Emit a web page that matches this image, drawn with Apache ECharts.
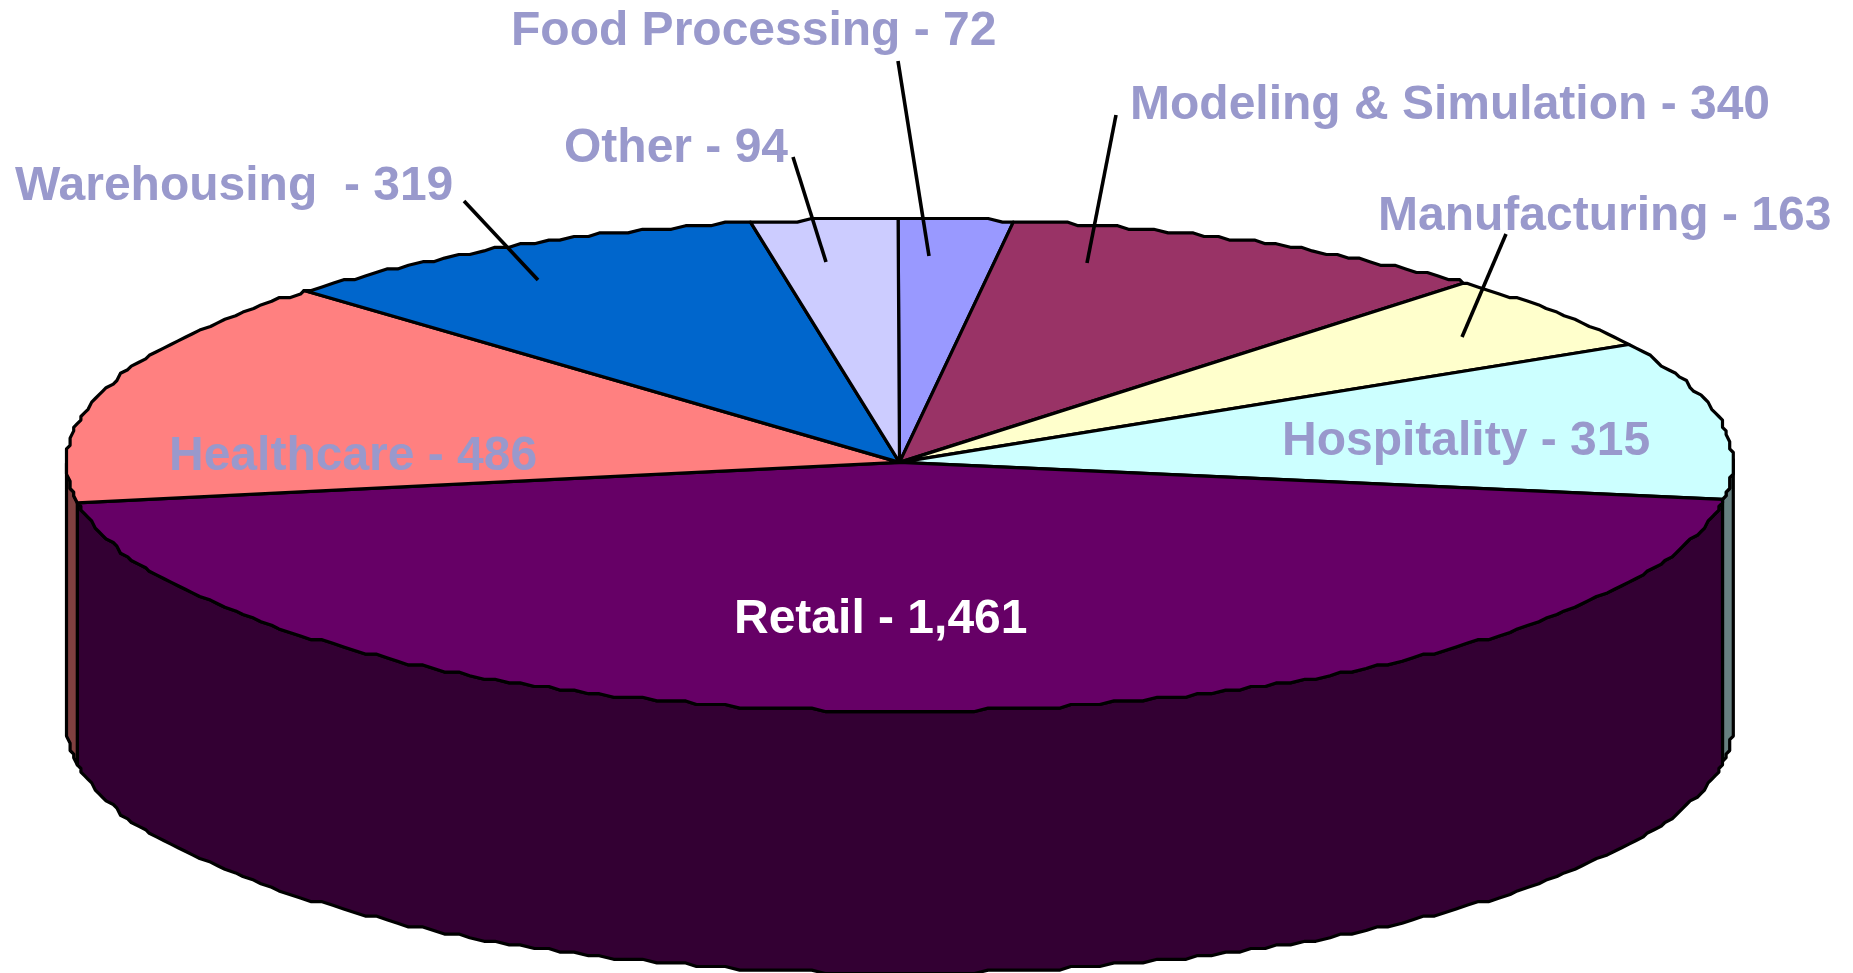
<!DOCTYPE html>
<html>
<head>
<meta charset="utf-8">
<style>
    html, body { margin: 0; padding: 0; background: #fff; }
    #chart { width: 1853px; height: 973px; }
</style>
<script src="https://cdn.jsdelivr.net/npm/echarts@6/dist/echarts.min.js"></script>
</head>
<body>
<div id="chart"></div>
<script>
'use strict';
// clockwise from 12 o'clock, same order as the picture
const categories = ['Food Processing', 'Modeling & Simulation', 'Manufacturing', 'Hospitality',
    'Retail', 'Healthcare', 'Warehousing ', 'Other'];
const values = [72, 340, 163, 315, 1461, 486, 319, 94];
const sliceColors = ['#9999FF', '#993366', '#FFFFCC', '#CCFFFF', '#660066', '#FF8080', '#0066CC', '#CCCCFF'];

const total = values.reduce((a, b) => a + b, 0);
const WALL_DEPTH = 262;
const GRID_LEFT = 66.5;
const GRID_TOP = 218.5;
const SNAP = 3.6; // the original rim is drawn on a coarse pixel grid
const LOWER_STRETCH = 1.02; // near half of the disc is a bit taller (perspective)

// label left / middle, then leader line start and end (no line for labels inside the pie)
const labelSpots = [
    { x: 511, y: 32, line: [898, 61, 929, 256] },
    { x: 1130, y: 106, line: [1116, 115, 1087, 263] },
    { x: 1378, y: 217, line: [1506, 234, 1462, 337] },
    { x: 1282, y: 442 },
    { x: 734, y: 620, color: '#FFFFFF' },
    { x: 169, y: 457 },
    { x: 15, y: 187, line: [464, 201, 538, 280] },
    { x: 564, y: 149, line: [793, 157, 826, 262] },
];

function sliceAngles(i) {
    let before = 0;
    for (let k = 0; k < i; k++) before += values[k];
    return [before / total * 360, (before + values[i]) / total * 360];
}

// the 3D view squeezes the upper right quarter by about 3 degrees
function viewAngle(deg) {
    const a = sliceAngles(0)[1];
    const b = sliceAngles(4)[0];
    if (deg > a && deg < b) return deg - 3 * Math.sin(Math.PI * (deg - a) / (b - a));
    return deg;
}

function rimPoint(api, deg) {
    const t = viewAngle(deg) * Math.PI / 180;
    const c = Math.cos(t);
    const p = api.coord([Math.sin(t), c >= 0 ? c : c * LOWER_STRETCH]);
    return [
        Math.round((p[0] - GRID_LEFT) / SNAP) * SNAP + GRID_LEFT,
        Math.round((p[1] - GRID_TOP) / SNAP) * SNAP + GRID_TOP,
    ];
}

function rimPoints(api, from, to) {
    const pts = [rimPoint(api, from)];
    for (let d = Math.floor(from) + 1; d < to; d++) pts.push(rimPoint(api, d));
    pts.push(rimPoint(api, to));
    return pts;
}

// walls are the top colour at half brightness
function wallColor(color) {
    const c = echarts.color.parse(color);
    return echarts.color.stringify([c[0] / 2, c[1] / 2, c[2] / 2, 1], 'rgba');
}

function renderWall(params, api) {
    const range = sliceAngles(params.dataIndex);
    const from = Math.max(range[0], 90);
    const to = Math.min(range[1], 270);
    if (to <= from) return null;
    const rim = rimPoints(api, from, to);
    const base = rim.map((p) => [p[0], p[1] + WALL_DEPTH]).reverse();
    return {
        type: 'polygon',
        shape: { points: rim.concat(base) },
        style: {
            fill: wallColor(sliceColors[params.dataIndex]),
            stroke: '#000',
            lineWidth: 3.2,
            lineJoin: 'round',
        },
    };
}

function renderTop(params, api) {
    const range = sliceAngles(params.dataIndex);
    const pts = [api.coord([0, 0])].concat(rimPoints(api, range[0], range[1]));
    return {
        type: 'polygon',
        shape: { points: pts },
        style: {
            fill: sliceColors[params.dataIndex],
            stroke: '#000',
            lineWidth: 3.2,
            lineJoin: 'round',
        },
    };
}

function renderLabel(params, api) {
    const spot = labelSpots[params.dataIndex];
    const children = [{
        type: 'text',
        style: {
            x: spot.x,
            y: spot.y,
            text: categories[params.dataIndex] + ' - ' + echarts.format.addCommas(values[params.dataIndex]),
            fill: spot.color || '#9999CC',
            font: 'bold 48px "Liberation Sans", Arial, sans-serif',
            align: 'left',
            verticalAlign: 'middle',
        },
    }];
    if (spot.line) {
        children.push({
            type: 'line',
            shape: { x1: spot.line[0], y1: spot.line[1], x2: spot.line[2], y2: spot.line[3] },
            style: { stroke: '#000', lineWidth: 3.6 },
        });
    }
    return { type: 'group', children: children };
}

const sliceData = categories.map((name, i) => ({ name: name, value: [0, 0, values[i]] }));

function customSeries(render, z) {
    return {
        type: 'custom',
        coordinateSystem: 'cartesian2d',
        renderItem: render,
        data: sliceData,
        clip: false,
        silent: true,
        z: z,
    };
}

const chart = echarts.init(document.getElementById('chart'));
chart.setOption({
    backgroundColor: '#fff',
    animation: false,
    grid: { left: GRID_LEFT, top: GRID_TOP, width: 1666, height: 492.6 },
    xAxis: { type: 'value', min: -1, max: 1, show: false },
    yAxis: { type: 'value', min: -LOWER_STRETCH, max: 1, show: false },
    series: [
        customSeries(renderWall, 1),
        customSeries(renderTop, 2),
        customSeries(renderLabel, 3),
    ],
});

window.addEventListener('resize', () => chart.resize());
</script>
</body>
</html>
